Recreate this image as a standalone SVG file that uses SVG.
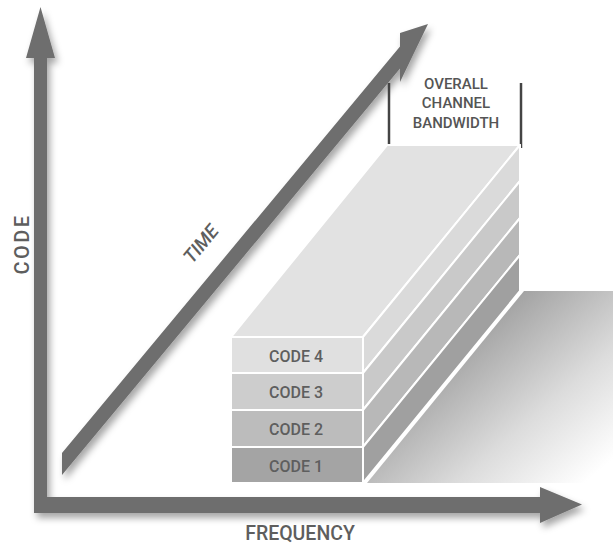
<svg xmlns="http://www.w3.org/2000/svg" width="613" height="546" viewBox="0 0 613 546">
  <defs>
    <filter id="shadow" x="-20%" y="-20%" width="140%" height="140%">
      <feDropShadow dx="3" dy="5" stdDeviation="3.5" flood-color="#000" flood-opacity="0.35"/>
    </filter>
    <linearGradient id="floorShade" gradientUnits="userSpaceOnUse" x1="480" y1="330" x2="600" y2="470">
      <stop offset="0" stop-color="#a4a4a4"/>
      <stop offset="0.55" stop-color="#dcdcdc"/>
      <stop offset="1" stop-color="#ffffff"/>
    </linearGradient>
    <style>
      .arrow { fill: #6e6e6e; }
      .face { stroke: #ffffff; stroke-width: 2; stroke-linejoin: round; }
      .lbl { font-family: Roboto, "Liberation Sans", sans-serif; fill: #5e5e5e; font-weight: 500; }
      .code { font-size: 16px; text-anchor: middle; }
      .bw { font-size: 15px; text-anchor: middle; fill: #555; }
      .bracket { stroke: #444; stroke-width: 2.5; fill: none; }
    </style>
  </defs>
  <rect width="613" height="546" fill="#ffffff"/>

  <!-- floor shadow of the stack -->
  <polygon id="stack-shadow" points="367,483 524,291 613,291 613,483" fill="url(#floorShade)"/>

  <!-- axes and time arrow -->
  <g id="connectors">
    <g id="axis-frame" filter="url(#shadow)">
      <path class="arrow" d="M40.5,7 L55,58 L47,58 L47,497 L540,497 L540,487 L582,504.5 L540,523 L540,513 L34,513 L34,58 L26,58 Z"/>
    </g>
    <g id="arrow-time" filter="url(#shadow)">
      <path class="arrow" d="M62,453 L400,46.5 L400,33 L428,24 L400,82 L400,68.5 L62,475 Z"/>
    </g>
  </g>

  <!-- axis labels -->
  <g id="label-code">
    <text class="lbl" x="0" y="0" font-size="20" letter-spacing="2.5" text-anchor="middle" transform="translate(29,244) rotate(-90)">CODE</text>
  </g>
  <g id="label-frequency">
    <text class="lbl" x="300" y="540" font-size="19.5" text-anchor="middle">FREQUENCY</text>
  </g>
  <g id="label-time">
    <text class="lbl" x="0" y="0" font-size="19" font-style="italic" text-anchor="middle" transform="translate(206,248) rotate(-50.3)">TIME</text>
  </g>

  <!-- bandwidth bracket -->
  <g id="bandwidth">
    <line class="bracket" x1="389" y1="83" x2="389" y2="148"/>
    <line class="bracket" x1="521" y1="83" x2="521" y2="148"/>
    <text class="lbl bw" x="456" y="89">OVERALL</text>
    <text class="lbl bw" x="456" y="108">CHANNEL</text>
    <text class="lbl bw" x="456" y="128">BANDWIDTH</text>
  </g>

  <!-- stack of code layers -->
  <g id="stack-top">
    <polygon class="face" points="231,337 363,337 520,145 387,145" fill="#e2e2e2"/>
  </g>
  <g id="code-4">
    <polygon class="face" points="363,337 520,145 520,181 363,373" fill="#dadada"/>
    <rect class="face" x="231" y="337" width="132" height="36" fill="#e0e0e0"/>
    <text class="lbl code" x="296" y="362">CODE 4</text>
  </g>
  <g id="code-3">
    <polygon class="face" points="363,373 520,181 520,218 363,410" fill="#c9c9c9"/>
    <rect class="face" x="231" y="373" width="132" height="37" fill="#cdcdcd"/>
    <text class="lbl code" x="296" y="398">CODE 3</text>
  </g>
  <g id="code-2">
    <polygon class="face" points="363,410 520,218 520,255 363,447" fill="#b8b8b8"/>
    <rect class="face" x="231" y="410" width="132" height="37" fill="#bcbcbc"/>
    <text class="lbl code" x="296" y="435">CODE 2</text>
  </g>
  <g id="code-1">
    <polygon class="face" points="363,447 520,255 520,291 363,483" fill="#a0a0a0"/>
    <rect class="face" x="231" y="447" width="132" height="36" fill="#a4a4a4"/>
    <text class="lbl code" x="296" y="472">CODE 1</text>
  </g>
</svg>
